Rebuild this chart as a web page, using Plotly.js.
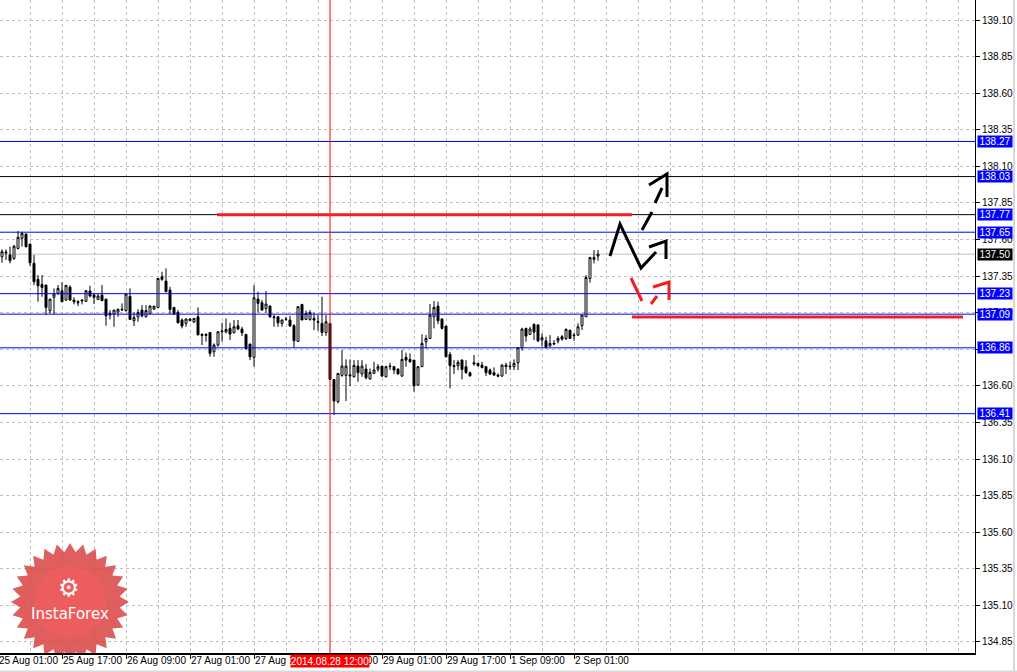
<!DOCTYPE html>
<html>
<head>
<meta charset="utf-8">
<script src="https://cdn.plot.ly/plotly-3.0.1.min.js"></script>
<style>html,body{margin:0;padding:0;background:#fff;}#chart{width:1017px;height:672px;}</style>
</head>
<body>
<div id="chart"></div>
<script>
// ---- data (hourly bars) ----
const opens = [137.482,137.508,137.494,137.471,137.539,137.608,137.637,137.569,137.437,137.328,
137.293,137.289,137.114,137.205,137.232,137.250,137.186,137.275,137.186,137.175,
137.180,137.177,137.248,137.221,137.191,137.221,137.193,137.095,137.091,137.104,
137.118,137.114,137.211,137.045,137.072,137.118,137.072,137.095,137.125,137.136,
137.346,137.316,137.255,137.136,137.102,137.050,137.027,137.045,137.036,137.072,
136.952,136.952,136.965,136.833,136.879,136.970,136.968,136.993,136.963,137.011,
136.988,136.952,136.886,136.795,137.193,137.168,137.129,137.145,137.072,137.072,
137.027,137.054,137.050,137.011,136.904,137.157,137.054,137.054,137.061,137.034,
137.027,136.965,137.027,136.644,136.492,136.672,136.672,136.667,136.662,136.735,
136.681,136.715,136.647,136.685,136.713,136.735,136.662,136.731,136.731,136.715,
136.667,136.795,136.781,136.776,136.606,136.731,136.902,136.924,137.072,137.145,
137.057,137.009,136.815,136.731,136.738,136.776,136.731,136.690,136.749,136.754,
136.742,136.731,136.708,136.690,136.674,136.667,136.731,136.735,136.731,136.758,
136.861,136.993,136.952,137.020,137.016,136.913,136.908,136.872,136.890,136.906,
136.936,136.924,136.981,136.943,136.947,137.011,137.072,137.334,137.464,137.487];
const highs = [137.533,137.533,137.551,137.562,137.658,137.653,137.642,137.569,137.494,137.357,
137.357,137.289,137.193,137.266,137.289,137.307,137.287,137.287,137.205,137.186,
137.191,137.255,137.284,137.236,137.232,137.289,137.193,137.118,137.118,137.129,
137.164,137.236,137.266,137.102,137.123,137.152,137.152,137.152,137.145,137.334,
137.380,137.403,137.277,137.136,137.118,137.061,137.061,137.061,137.061,137.136,
136.959,136.959,136.965,136.890,136.970,137.031,137.061,137.031,137.050,137.050,
137.004,136.952,136.886,137.289,137.243,137.186,137.248,137.152,137.088,137.077,
137.054,137.072,137.079,137.022,137.145,137.157,137.114,137.118,137.100,137.084,
137.209,137.084,137.027,136.644,136.685,136.845,136.781,136.781,136.776,136.776,
136.776,136.749,136.719,136.765,136.749,136.735,136.738,136.758,136.735,136.719,
136.845,136.827,136.822,136.776,136.731,136.952,136.947,137.159,137.180,137.175,
137.061,137.009,136.833,136.776,136.776,136.781,136.776,136.697,136.811,136.758,
136.765,136.735,136.719,136.726,136.685,136.747,136.758,136.765,136.781,136.861,
136.997,136.997,137.004,137.027,137.022,136.959,136.936,136.947,136.913,136.940,
136.947,136.993,136.981,136.963,137.027,137.084,137.357,137.478,137.528,137.528];
const lows = [137.441,137.460,137.437,137.460,137.533,137.551,137.546,137.419,137.289,137.175,
137.209,137.084,137.095,137.088,137.221,137.175,137.182,137.186,137.157,137.145,
137.157,137.175,137.205,137.159,137.186,137.182,137.011,137.054,137.004,137.072,
137.114,137.107,137.054,137.009,137.038,137.068,137.068,137.091,137.118,137.136,
137.318,137.243,137.091,137.088,137.027,136.993,137.004,137.043,137.031,136.945,
136.879,136.902,136.799,136.799,136.868,136.902,136.959,136.913,136.959,136.981,
136.940,136.845,136.776,136.731,137.100,137.114,137.100,137.066,137.004,137.004,
137.004,137.045,137.004,136.861,136.902,137.050,137.050,137.045,136.981,136.977,
136.940,136.943,136.644,136.401,136.480,136.662,136.496,136.599,136.658,136.628,
136.662,136.644,136.644,136.681,136.697,136.662,136.658,136.708,136.681,136.678,
136.662,136.731,136.758,136.560,136.599,136.731,136.856,136.924,136.993,137.022,
136.986,136.795,136.583,136.681,136.708,136.644,136.681,136.662,136.738,136.731,
136.719,136.667,136.674,136.667,136.658,136.662,136.681,136.708,136.708,136.708,
136.840,136.902,136.947,136.913,136.899,136.868,136.856,136.868,136.881,136.890,
136.908,136.913,136.920,136.908,136.940,136.981,137.072,137.305,137.437,137.455];
const closes = [137.517,137.514,137.455,137.555,137.615,137.642,137.551,137.441,137.312,137.284,
137.273,137.136,137.193,137.227,137.266,137.175,137.287,137.186,137.175,137.168,
137.186,137.250,137.214,137.205,137.214,137.182,137.079,137.084,137.118,137.123,
137.123,137.227,137.054,137.066,137.102,137.079,137.114,137.145,137.145,137.334,
137.328,137.243,137.123,137.091,137.031,137.009,137.057,137.057,137.061,136.949,
136.945,136.945,136.822,136.879,136.970,136.975,136.986,136.954,137.004,136.988,
136.963,136.856,136.799,137.202,137.164,137.118,137.159,137.072,137.066,137.031,
137.050,137.057,137.009,136.908,137.141,137.050,137.095,137.102,137.050,137.038,
136.965,137.038,136.644,136.496,136.685,136.735,136.735,136.674,136.740,136.690,
136.735,136.656,136.692,136.708,136.731,136.667,136.731,136.735,136.708,136.681,
136.781,136.776,136.765,136.601,136.731,136.890,136.924,137.084,137.136,137.045,
136.993,136.799,136.738,136.738,136.760,136.713,136.692,136.669,136.758,136.738,
136.726,136.690,136.681,136.674,136.667,136.742,136.742,136.731,136.754,136.861,
136.988,136.940,136.988,136.968,136.908,136.929,136.863,136.890,136.886,136.924,
136.920,136.986,136.924,136.947,137.004,137.084,137.341,137.478,137.478,137.500];

const tickBars = [0,16,32,48,64,80,96,112,128,144];
const tickLabels = ['25 Aug 01:00','25 Aug 17:00','26 Aug 09:00','27 Aug 01:00','27 Aug 17:00',
                    '28 Aug 09:00','29 Aug 01:00','29 Aug 17:00','1 Sep 09:00','2 Sep 01:00'];

const blueLevels = [138.27, 137.65, 137.23, 137.09, 136.86, 136.41];
const blackLevels = [138.03, 137.77];
const bidPrice = 137.50;
const markerBar = 83;
const markerLabel = '2014.08.28 12:00';
const redSegments = [[54.75, 158.5, 137.77], [158.5, 241.25, 137.07]];

// ---- geometry helpers (pixel -> data, for hand-drawn decorations) ----
const X0 = 0.5, X1 = 244.25;
const px2x = px => (px + 2) / 4;
const py2y = py => 139.10 - (py - 20) / 146.35;
const Y0 = py2y(653), Y1 = py2y(0);
const toPaperX = v => (v - X0) / (X1 - X0);

const bars = opens.map((_, k) => k + 1);

const trace = {
  type: 'candlestick', x: bars, open: opens, high: highs, low: lows, close: closes,
  increasing: {line: {color: '#000', width: 1}, fillcolor: '#ffffff'},
  decreasing: {line: {color: '#000', width: 1}, fillcolor: '#000000'},
  whiskerwidth: 0, hoverinfo: 'skip', showlegend: false
};

const shapes = [];
const annotations = [];

shapes.push({type:'line', xref:'paper', x0:0, x1:1, yref:'y', y0:bidPrice, y1:bidPrice, line:{color:'#c0c0c0', width:1}, layer:'below'});
blueLevels.forEach(v => shapes.push({type:'line', xref:'paper', x0:0, x1:1, yref:'y', y0:v, y1:v, line:{color:'#0000ff', width:1}}));
blackLevels.forEach(v => shapes.push({type:'line', xref:'paper', x0:0, x1:1, yref:'y', y0:v, y1:v, line:{color:'#000000', width:1}}));
shapes.push({type:'line', xref:'x', x0:markerBar, x1:markerBar, yref:'paper', y0:0, y1:1, line:{color:'#ff0000', width:1}});
redSegments.forEach(s => shapes.push({type:'line', xref:'x', x0:s[0], x1:s[1], yref:'y', y0:s[2], y1:s[2], line:{color:'#f02020', width:3}}));

function poly(pts, color, w) {
  let d = pts.map((p, k) => (k ? 'L' : 'M') + px2x(p[0]) + ',' + py2y(p[1])).join(' ');
  shapes.push({type:'path', xref:'x', yref:'y', path: d, line:{color: color, width: w}});
}
// black zigzag
poly([[610,256],[620,224],[641,268],[656,252]], '#000', 3);
poly([[649,247],[666,241],[666,259]], '#000', 3);
// black dashed arrow
poly([[642,230],[652,212]], '#000', 3);
poly([[655,203],[662,188]], '#000', 3);
poly([[649,185],[667,174],[667,197]], '#000', 3);
// red dashed arrow
poly([[631,278],[642,301]], '#f02020', 3);
poly([[651,304],[657,296]], '#f02020', 3);
poly([[653,287],[669,282],[669,300]], '#f02020', 3);

// InstaForex badge
(function(){
  const cx = 70, cy = 602, R = 59, r = 50, n = 28;
  let d = '';
  for (let k = 0; k < 2*n; k++) {
    const a = -Math.PI/2 + k * Math.PI / n;
    const rad = (k % 2 === 0) ? R : r;
    const px = cx + rad*Math.cos(a), py = cy + rad*Math.sin(a);
    d += (k ? 'L' : 'M') + px2x(px) + ',' + py2y(py) + ' ';
  }
  d += 'Z';
  shapes.push({type:'path', xref:'x', yref:'y', path:d, fillcolor:'#d94343', opacity:0.85, line:{width:0}, layer:'above'});
  shapes.push({type:'circle', xref:'x', yref:'y', x0:px2x(cx-36), x1:px2x(cx+36), y0:py2y(cy+36), y1:py2y(cy-36), fillcolor:'#ff5a5a', opacity:0.45, line:{width:0}, layer:'above'});
})();
annotations.push({xref:'x', yref:'y', x:px2x(69), y:py2y(588), text:'⚙', showarrow:false, font:{family:'DejaVu Sans', size:24, color:'#ffffff'}});
annotations.push({xref:'x', yref:'y', x:px2x(70), y:py2y(614), text:'InstaForex', showarrow:false, font:{family:'DejaVu Sans', size:15, color:'#ffffff'}});

// x-axis labels, left-aligned at their tick like the source terminal
const axFont = {family:'Liberation Sans', size:10, color:'#000'};
tickBars.forEach((b, k) => annotations.push({
  xref:'paper', x:toPaperX(b), xanchor:'left', xshift:0, yref:'paper', y:0, yanchor:'top', yshift:-1,
  text:tickLabels[k], showarrow:false, font:axFont, borderpad:0
}));

// right-side price boxes
const boxFont = {family:'Liberation Sans', size:10, color:'#ffffff'};
blueLevels.concat(blackLevels).forEach(v => annotations.push({
  xref:'paper', x:1, xanchor:'left', xshift:2, yref:'y', y:v, yanchor:'middle',
  text:v.toFixed(2), showarrow:false, bgcolor:'#0000ff', width:34, height:11, borderpad:0, font:boxFont
}));
annotations.push({xref:'paper', x:1, xanchor:'left', xshift:2, yref:'y', y:bidPrice, yanchor:'middle',
  text:bidPrice.toFixed(2), showarrow:false, bgcolor:'#000000', width:34, height:11, borderpad:0, font:boxFont});
annotations.push({xref:'x', x:markerBar, xanchor:'center', yref:'paper', y:0, yanchor:'top', yshift:-1,
  text:markerLabel, showarrow:false, bgcolor:'#ff0000', width:78, height:12, borderpad:0, font:{family:'Liberation Sans', size:10, color:'#ffffff'}});

// window border (right / bottom)
shapes.push({type:'line', xref:'paper', yref:'paper', x0:1014/975, x1:1014/975, y0:-19/653, y1:1, line:{color:'#d8d8d8', width:2}});
shapes.push({type:'line', xref:'paper', yref:'paper', x0:0, x1:1017/975, y0:-18.5/653, y1:-18.5/653, line:{color:'#d8d8d8', width:2}});

const layout = {
  width:1017, height:672, margin:{l:0, r:42, t:0, b:19},
  paper_bgcolor:'#ffffff', plot_bgcolor:'#ffffff', showlegend:false,
  xaxis:{range:[X0, X1], rangeslider:{visible:false}, tickmode:'array', tickvals:tickBars, showticklabels:false,
    ticks:'outside', ticklen:4, tickcolor:'#000',
    showgrid:true, gridcolor:'#c0c0c0', griddash:'3px,3px', gridwidth:1,
    minor:{tickmode:'linear', tick0:0, dtick:8, showgrid:true, gridcolor:'#c0c0c0', griddash:'3px,3px', ticks:''},
    showline:true, linecolor:'#000', linewidth:2, zeroline:false, fixedrange:true},
  yaxis:{side:'right', range:[Y0, Y1], tickmode:'linear', tick0:134.85, dtick:0.25, tickformat:'.2f',
    ticks:'outside', ticklen:4, tickcolor:'#000', showgrid:true, gridcolor:'#c0c0c0', griddash:'3px,3px',
    showline:true, linecolor:'#000', linewidth:1, zeroline:false, tickfont:axFont, fixedrange:true},
  shapes:shapes, annotations:annotations
};
Plotly.newPlot('chart', [trace], layout, {staticPlot:true, displayModeBar:false});
</script>
</body>
</html>
